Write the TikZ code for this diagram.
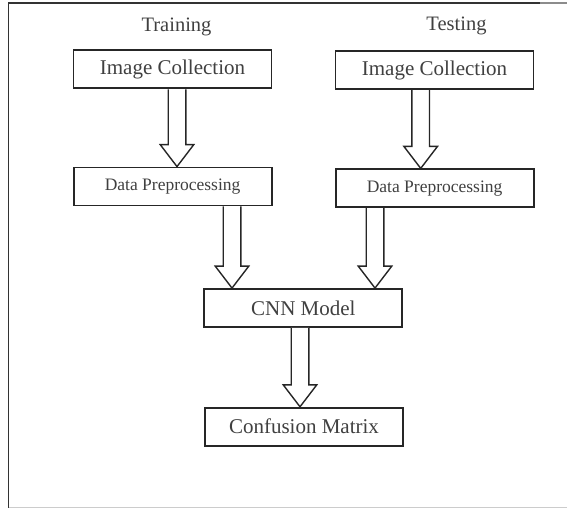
\documentclass[tikz,border=0pt]{standalone}
\usepackage{fontspec}
\setmainfont{Liberation Serif}
\usetikzlibrary{calc}
\tikzset{
  x=1pt, y=1pt,
  box/.style={draw=black!85, line width=1.8pt, fill=white, minimum width=198pt, minimum height=38pt, inner sep=0pt, text=black!75, font=\fontsize{21}{24}\selectfont},
  smallbox/.style={box, font=\fontsize{17.5}{20}\selectfont},
  title/.style={inner sep=0pt, text=black!75, font=\fontsize{20.5}{24}\selectfont},
  blockarr/.style={draw=black!85, line width=1.4pt, fill=white, line join=miter},
  frameline/.style={line width=1.8pt, draw=black!80}
}
% #1 = x (pt), #2 = source node, #3 = target node
\newcommand\blockarrow[3]{%
  \draw[blockarr] let \p1=(#2.south), \p2=(#3.north) in
    ({#1pt-8.8pt},{\y1}) -- ({#1pt-8.8pt},{\y2+22pt}) -- ({#1pt-16.8pt},{\y2+22pt}) --
    ({#1pt},{\y2}) --
    ({#1pt+16.8pt},{\y2+22pt}) -- ({#1pt+8.8pt},{\y2+22pt}) -- ({#1pt+8.8pt},{\y1});
}
\begin{document}
\begin{tikzpicture}
\useasboundingbox (0,0) rectangle (567,509);
% frame
\draw[frameline] (8.5,1.5) -- (8.5,506) -- (540,506);
\draw[line width=1.6pt, draw=black!45] (540,506) -- (567,506);
\draw[line width=1.2pt, draw=black!20] (8.5,1.5) -- (567,1.5);

% titles
\node[title] (ttrain) at (176.5,482) {Training};
\node[title] (ttest) at (456.5,483) {Testing};

% boxes
\node[box] (trIC) at (172.5,439.6) {Image Collection};
\node[box] (teIC) at (434.5,438.7) {Image Collection};
\node[smallbox] (trDP) at (172.6,322.5) {Data Preprocessing};
\node[smallbox] (teDP) at (434.6,320.7) {Data Preprocessing};
\node[box] (cnn) at (303.3,201) {CNN Model};
\node[box] (cm) at (304,82.3) {Confusion Matrix};

% arrows
\blockarrow{177}{trIC}{trDP}
\blockarrow{420.7}{teIC}{teDP}
\blockarrow{232}{trDP}{cnn}
\blockarrow{375}{teDP}{cnn}
\blockarrow{300}{cnn}{cm}
\end{tikzpicture}
\end{document}
